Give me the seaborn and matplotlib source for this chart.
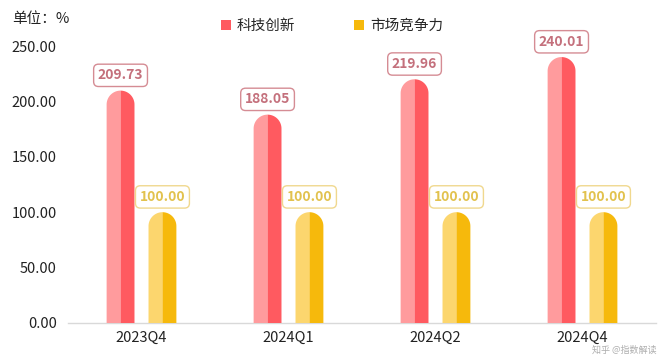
import numpy as np
import pandas as pd
import matplotlib
matplotlib.use("Agg")
import matplotlib.pyplot as plt
import seaborn as sns
from matplotlib.patches import Polygon, Patch

# 数据
quarters = ["2023Q4", "2024Q1", "2024Q2", "2024Q4"]
series = ["科技创新", "市场竞争力"]
tech_values = [209.73, 188.05, 219.96, 240.01]
market_values = [100.00, 100.00, 100.00, 100.00]
y_ticks = [0, 50, 100, 150, 200, 250]

light_colors = {"科技创新": "#ff9b9d", "市场竞争力": "#fcd66e"}
dark_colors = {"科技创新": "#ff5a60", "市场竞争力": "#f6b90c"}
label_text = {"科技创新": "#c4707c", "市场竞争力": "#e2c24e"}
label_edge = {"科技创新": "#d58c94", "市场竞争力": "#f0d88e"}

df = pd.DataFrame({
    "quarter": quarters * 2,
    "series": [series[0]] * 4 + [series[1]] * 4,
    "value": tech_values + market_values,
})

sns.set_theme(style="white")
plt.rcParams["font.family"] = ["Noto Sans CJK SC", "DejaVu Sans"]

W, H = 660, 355
fig = plt.figure(figsize=(W / 100, H / 100), dpi=100)
y_max = 265
px_per_val = 277 / 250
ax_left, ax_right, ax_bottom = 68, 656, 323
ax_top = ax_bottom - y_max * px_per_val
ax = fig.add_axes([ax_left / W, 1 - ax_bottom / H,
                   (ax_right - ax_left) / W, (ax_bottom - ax_top) / H])

sns.barplot(data=df, x="quarter", y="value", hue="series", order=quarters,
            hue_order=series, width=0.57, gap=0.335, ax=ax, legend=False,
            palette=dark_colors)
ax.set_xlim(-0.5, len(quarters) - 0.5)
ax.set_ylim(0, y_max)

# 圆角顶部 + 左右双色
px_per_x = (ax_right - ax_left) / len(quarters)
bars = list(ax.patches)
for i, p in enumerate(bars):
    s = series[i // len(quarters)]
    x0, w, h = p.get_x(), p.get_width(), p.get_height()
    p.set_visible(False)
    cx = x0 + w / 2
    rx = w / 2
    ry = rx * px_per_x / px_per_val
    top = h - ry
    t_left = np.linspace(np.pi, np.pi / 2, 30)
    t_right = np.linspace(np.pi / 2, 0, 30)
    left_pts = [(x0, 0), (x0, top)] + \
        [(cx + rx * np.cos(t), top + ry * np.sin(t)) for t in t_left] + [(cx, 0)]
    right_pts = [(cx, 0)] + \
        [(cx + rx * np.cos(t), top + ry * np.sin(t)) for t in t_right] + \
        [(x0 + w, top), (x0 + w, 0)]
    ax.add_patch(Polygon(left_pts, closed=True, facecolor=light_colors[s],
                         edgecolor="none", zorder=3))
    ax.add_patch(Polygon(right_pts, closed=True, facecolor=dark_colors[s],
                         edgecolor="none", zorder=3))
    ax.annotate(f"{h:.2f}", (cx, h), xytext=(0, 11), textcoords="offset points",
                ha="center", va="center", fontsize=10, fontweight="bold",
                color=label_text[s], annotation_clip=False, zorder=5,
                bbox=dict(boxstyle="round,pad=0.3,rounding_size=0.35",
                          fc="white", ec=label_edge[s], lw=1.0))

ax.set_yticks(y_ticks)
ax.set_yticklabels([f"{v:.2f}" for v in y_ticks], fontsize=10.5, color="#222222")
ax.tick_params(axis="x", labelsize=10.5, colors="#222222", length=0, pad=6)
ax.tick_params(axis="y", length=0, pad=8)
ax.set_xlabel("")
ax.set_ylabel("")
for side in ["left", "right", "top"]:
    ax.spines[side].set_visible(False)
ax.spines["bottom"].set_color("#d9d9d9")
ax.spines["bottom"].set_linewidth(1.0)
ax.grid(False)

fig.text(12 / W, 1 - 19 / H, "单位：%", fontsize=10.5, va="center", color="#222222")

handles = [Patch(facecolor=dark_colors[s], edgecolor="none") for s in series]
fig.legend(handles, series, loc="center", bbox_to_anchor=(332 / W, 1 - 26 / H),
           ncol=2, frameon=False, fontsize=10.5, handlelength=0.7,
           handleheight=0.7, handletextpad=0.4, columnspacing=4.0)

# 水印（缩小放在右下角，避免与坐标标签重叠）
fig.text(656 / W, 1 - 350 / H, "知乎 @指数解读", fontsize=6.5, color="#9a9a9a",
         alpha=0.8, ha="right", va="center")

fig.savefig("out.png", dpi=100)
